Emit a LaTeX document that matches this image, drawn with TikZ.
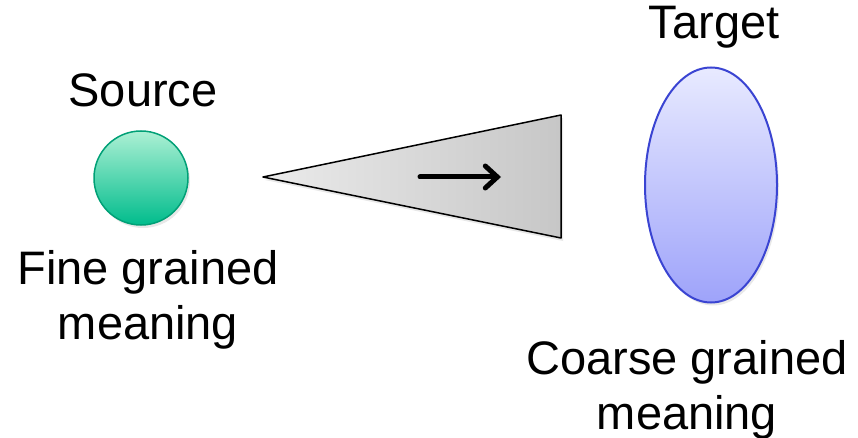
\documentclass[tikz,border=0pt]{standalone}
\usepackage{fontspec}
\setmainfont{Liberation Sans}
\usetikzlibrary{shapes.geometric,shadows,arrows.meta}
\definecolor{srctop}{RGB}{172,240,212}
\definecolor{srcbot}{RGB}{0,188,140}
\definecolor{srcline}{RGB}{0,160,118}
\definecolor{tgttop}{RGB}{232,234,255}
\definecolor{tgtbot}{RGB}{158,163,250}
\definecolor{tgtline}{RGB}{58,68,210}
\tikzset{
  label text/.style={inner sep=0pt, font=\fontsize{47}{55}\selectfont, align=center},
  soft shadow/.style={drop shadow={opacity=0.18, shadow xshift=2pt, shadow yshift=-3pt}}
}
\begin{document}
\begin{tikzpicture}[x=1pt,y=-1pt]
			%%%%% START %%%%%
			\useasboundingbox (0, 0) rectangle (858, 438);
			
			\node[circle, minimum size=94pt, draw=srcline, line width=1.5pt, top color=srctop, bottom color=srcbot, soft shadow] (source) at (141, 178) {};
			\node[label text, anchor=base] (sourcename) at (143, 107) {Source};
			\node[label text] (sourcemeaning) at (148, 300) {Fine grained\\meaning};
			
			\coordinate (tip) at (263, 177);
			\coordinate (upper) at (561, 115);
			\coordinate (lower) at (561, 238);
			\draw[line width=1.5pt, line join=round, left color=black!8, right color=black!22, soft shadow] (tip) -- (upper) -- (lower) -- cycle;
			
			\coordinate (arrowstart) at (420, 177);
			\coordinate (arrowend) at (501, 177);
			\draw[line width=5pt, line cap=round, -{Straight Barb[length=12pt, width=22pt, line cap=round]}] (arrowstart) -- (arrowend);
			
			\node[ellipse, minimum width=132pt, minimum height=235pt, draw=tgtline, line width=2pt, top color=tgttop, bottom color=tgtbot, soft shadow] (target) at (711, 185) {};
			\node[label text, anchor=base] (targetname) at (714, 39) {Target};
			\node[label text] (targetmeaning) at (687, 390) {Coarse grained\\meaning};
			
			%%%%% END %%%%%
		\end{tikzpicture}
\end{document}
